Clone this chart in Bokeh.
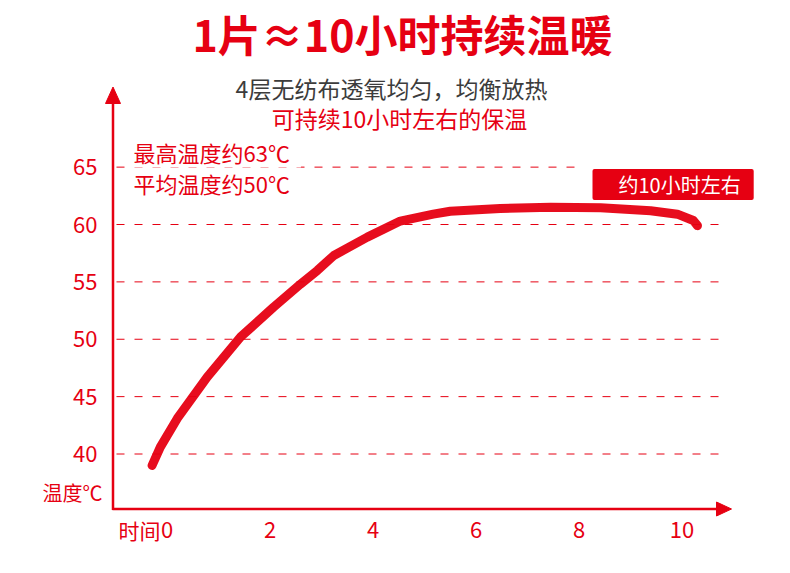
from bokeh.plotting import figure
from bokeh.models import Range1d
from bokeh.core.properties import value
from bokeh.embed import file_html
from bokeh.resources import INLINE

# ---------------- data ----------------
title_text = "1片≈10小时持续温暖"
subtitle_1 = "4层无纺布透氧均匀，均衡放热"
subtitle_2 = "可持续10小时左右的保温"
note_max = "最高温度约63℃"
note_avg = "平均温度约50℃"
badge_text = "约10小时左右"
x_title = "时间"
y_title = "温度℃"

hours = [-0.29, -0.13, 0.20, 0.78, 1.43, 2.07, 2.59, 2.92, 3.24, 3.89, 4.53,
         5.17, 5.50, 6.47, 7.45, 8.42, 9.39, 9.91, 10.22, 10.30]
temp = [39.0, 40.6, 43.1, 46.7, 50.2, 52.8, 54.8, 56.0, 57.3, 58.9, 60.3,
        60.9, 61.15, 61.4, 61.5, 61.45, 61.2, 60.9, 60.35, 59.9]

x_ticks = [0, 2, 4, 6, 8, 10]
x_tick_labels = ["0", "2", "4", "6", "8", "10"]
y_ticks = [40, 45, 50, 55, 60, 65]
y_tick_labels = ["40", "45", "50", "55", "60", "65"]

# ---------------- layout calibration ----------------
W, H = 790, 573
OFF = 0
X0_PX, PX_PER_H = 166.5, 51.5
Y40_PX, PX_PER_DEG = 453.5, 11.475

def hx(px):
    return (px - X0_PX) / PX_PER_H

def ty(py):
    return 40 + (Y40_PX - py) / PX_PER_DEG

RED = "#e60012"
FONT = value("Noto Sans CJK SC")

p = figure(width=W, height=H,
           x_range=Range1d(hx(OFF), hx(OFF + W)),
           y_range=Range1d(ty(OFF + H), ty(OFF)),
           output_backend="svg", toolbar_location=None,
           x_axis_location=None, y_axis_location=None,
           min_border=0, outline_line_color=None)
p.grid.visible = False
p.background_fill_color = "white"
p.border_fill_color = "white"

# grid lines
grid_end = [hx(721)] * 5 + [hx(575)]
p.segment(x0=[hx(116)] * len(y_ticks), y0=y_ticks, x1=grid_end, y1=y_ticks,
          line_color=RED, line_width=1, line_dash="8 10")

# notes (the first one masks the 65 grid line with a white background)
p.text(x=[hx(133)], y=[ty(182)], text=[note_avg],
       text_font=FONT, text_font_size="22px", text_color=RED,
       text_align="left", text_baseline="middle")
p.text(x=[hx(126)], y=[ty(151)], text=[note_max],
       text_font=FONT, text_font_size="22px", text_color=RED,
       text_align="left", text_baseline="middle",
       background_fill_color="white",
       padding=dict(left=7, right=11, top=0, bottom=0))

# curve
p.line(hours, temp, line_color=RED, line_width=9, line_alpha=0.95,
       line_cap="round", line_join="round")

# axes lines
p.segment(x0=[hx(112.5), hx(112)], y0=[ty(509.5), ty(508.5)],
          x1=[hx(112.5), hx(718)], y1=[ty(100), ty(508.5)],
          line_color=RED, line_width=2.5)
p.patches(xs=[[hx(112.5), hx(105), hx(120)], [hx(731), hx(716), hx(716)]],
          ys=[[ty(86.5), ty(103), ty(103)], [ty(508.5), ty(501.5), ty(515.5)]],
          fill_color=RED, line_color=RED, line_width=1)

# tick labels
p.text(x=x_ticks, y=[ty(529)] * len(x_ticks), text=x_tick_labels,
       text_font=FONT, text_font_size="22px", text_color=RED,
       text_align="center", text_baseline="middle")
p.text(x=[hx(97)] * len(y_ticks), y=y_ticks, text=y_tick_labels,
       text_font=FONT, text_font_size="22px", text_color=RED,
       text_align="right", text_baseline="middle")

# axis titles
p.text(x=[hx(160)], y=[ty(529)], text=[x_title],
       text_font=FONT, text_font_size="21px", text_color=RED,
       text_align="right", text_baseline="middle")
p.text(x=[hx(102)], y=[ty(492)], text=[y_title],
       text_font=FONT, text_font_size="20px", text_color=RED,
       text_align="right", text_baseline="middle")

# badge
p.text(x=[hx(592)], y=[ty(184)], text=[badge_text],
       text_font=FONT, text_font_size="20px", text_color="white",
       text_align="left", text_baseline="middle",
       background_fill_color=RED,
       padding=dict(left=26, right=13, top=1, bottom=1), border_radius=2)

# title and subtitles
p.text(x=[hx(402)], y=[ty(32)], text=[title_text],
       text_font=FONT, text_font_size="43px", text_font_style="bold",
       text_color=RED, text_align="center", text_baseline="middle")
p.text(x=[hx(391)], y=[ty(87)], text=[subtitle_1],
       text_font=FONT, text_font_size="23px", text_color="#3c3c3c",
       text_align="center", text_baseline="middle")
p.text(x=[hx(399)], y=[ty(117)], text=[subtitle_2],
       text_font=FONT, text_font_size="23px", text_color=RED,
       text_align="center", text_baseline="middle")

open("out.html", "w").write(file_html(p, INLINE))
